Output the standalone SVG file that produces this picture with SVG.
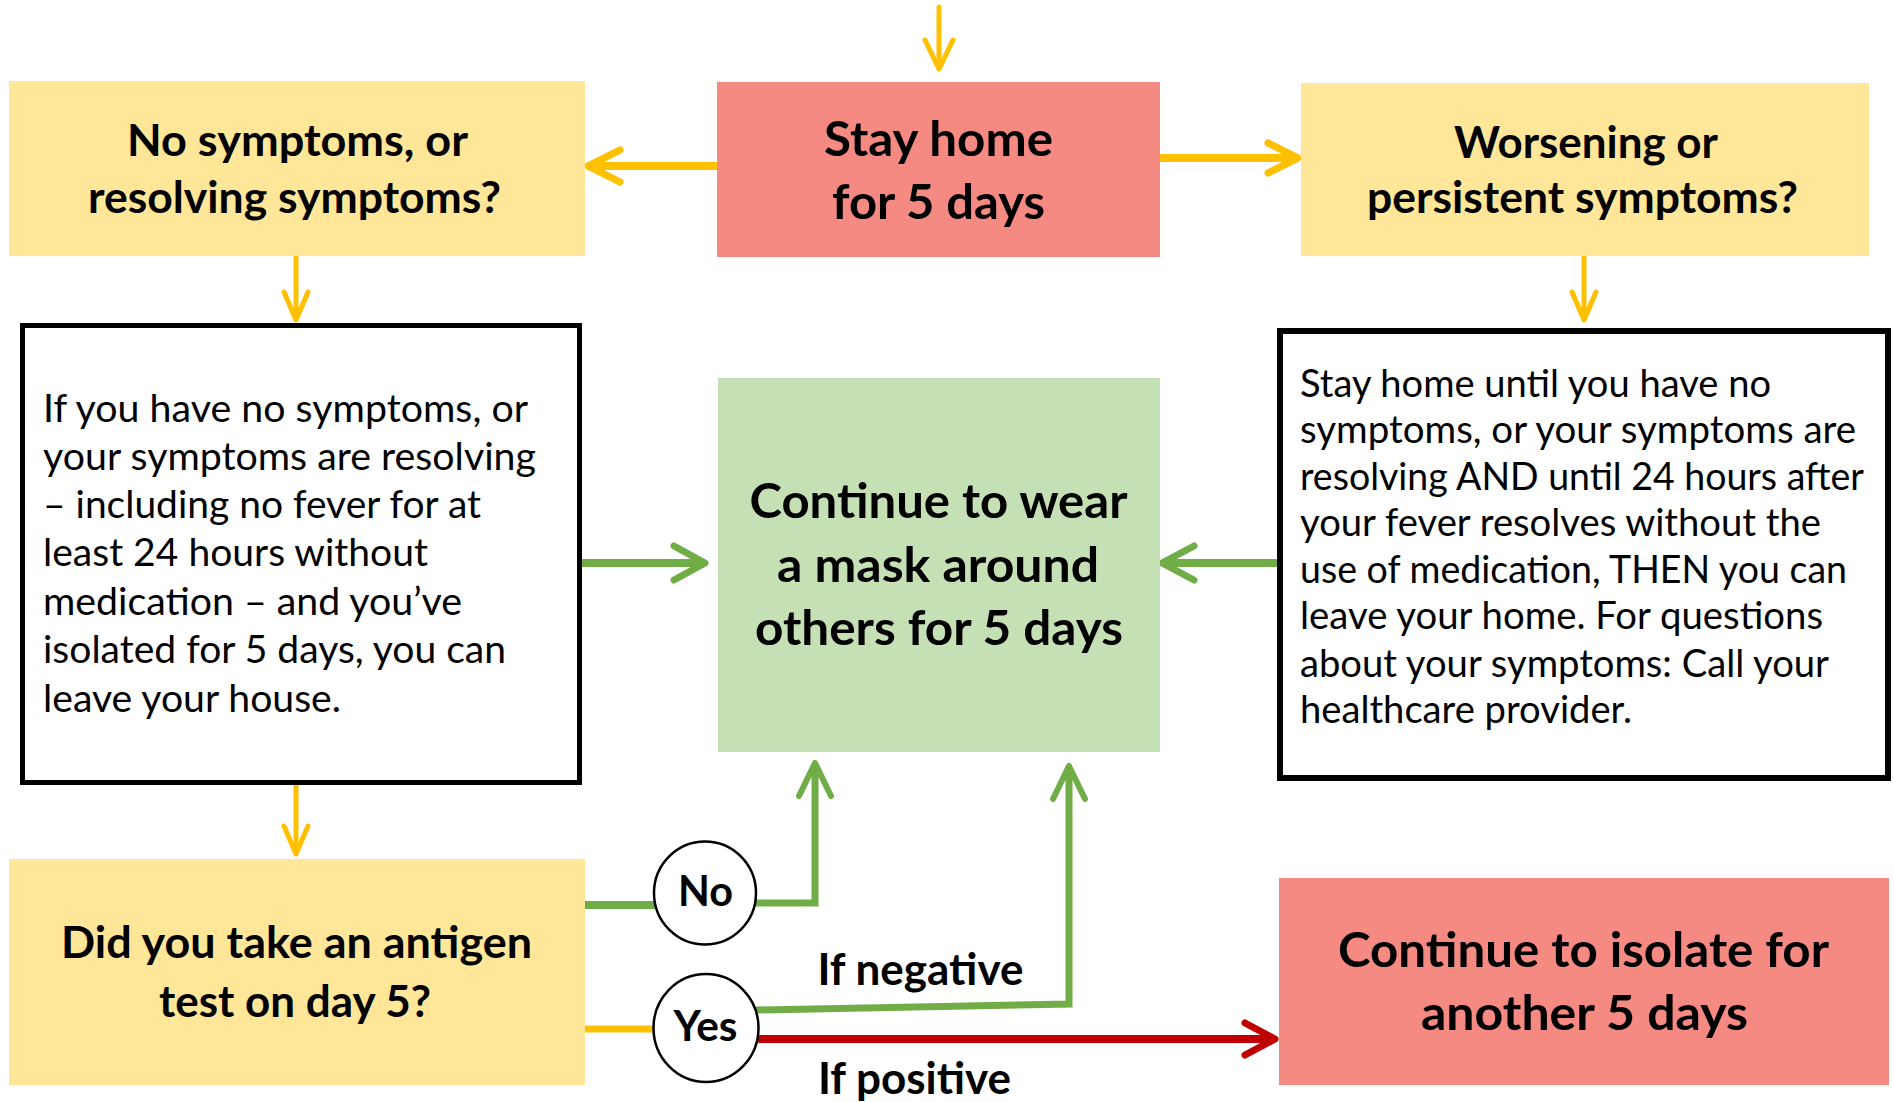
<svg xmlns="http://www.w3.org/2000/svg" width="1894" height="1102" viewBox="0 0 1894 1102">
<style>
.yel{fill:#FFE699}
.red{fill:#F48A82}
.grn{fill:#C5E0B4}
.box{fill:#FFFFFF;stroke:#000000}
.h{font-family:Lato,"Liberation Sans",sans-serif;font-weight:bold;fill:#000;text-anchor:middle}
.b{font-family:Lato,"Liberation Sans",sans-serif;fill:#000;font-size:38.5px}
.ay{fill:none;stroke:#FFC000;stroke-linecap:round;stroke-linejoin:round}
.ag{fill:none;stroke:#70AD47;stroke-linejoin:miter}
.agh{fill:none;stroke:#70AD47;stroke-linecap:round;stroke-linejoin:round}
.ar{fill:none;stroke:#C00000;stroke-linecap:round;stroke-linejoin:round}
.circ{fill:#FFFFFF;stroke:#000;stroke-width:2.5}
</style>
<g id="connectors">
  <line class="ay" x1="939" y1="7" x2="939" y2="68" stroke-width="5"/>
  <polyline class="ay" points="925,40 939,69 953,40" stroke-width="5"/>
  <line class="ay" x1="717" y1="166" x2="590" y2="166" stroke-width="8"/>
  <polyline class="ay" points="620,150 588,166 620,182" stroke-width="7"/>
  <line class="ay" x1="1160" y1="158" x2="1296" y2="158" stroke-width="8"/>
  <polyline class="ay" points="1268,143 1298,158 1268,173" stroke-width="7"/>
  <line class="ay" x1="296" y1="256" x2="296" y2="318" stroke-width="5"/>
  <polyline class="ay" points="284,292 296,320 308,292" stroke-width="5"/>
  <line class="ay" x1="1584" y1="256" x2="1584" y2="318" stroke-width="5"/>
  <polyline class="ay" points="1572,292 1584,320 1596,292" stroke-width="5"/>
  <line class="ay" x1="296" y1="785" x2="296" y2="852" stroke-width="5"/>
  <polyline class="ay" points="284,826 296,854 308,826" stroke-width="5"/>
  <line class="agh" x1="580" y1="563" x2="702" y2="563" stroke-width="8"/>
  <polyline class="agh" points="674,546 705,563 674,580" stroke-width="7"/>
  <line class="agh" x1="1276" y1="563" x2="1164" y2="563" stroke-width="8"/>
  <polyline class="agh" points="1194,546 1162,563 1194,580" stroke-width="7"/>
  <line x1="585" y1="905" x2="655" y2="905" stroke="#70AD47" stroke-width="8"/>
  <polyline class="ag" points="755,903 815,903 815,765" stroke-width="7"/>
  <polyline class="agh" points="799,796 815,763 831,796" stroke-width="6"/>
  <polyline class="ag" points="756,1010 1069,1004 1069,768" stroke-width="7"/>
  <polyline class="agh" points="1053,799 1069,766 1085,799" stroke-width="6"/>
  <line x1="585" y1="1029" x2="655" y2="1029" stroke="#FFC000" stroke-width="7"/>
  <line class="ar" x1="760" y1="1039" x2="1272" y2="1039" stroke-width="8"/>
  <polyline class="ar" points="1245,1023 1275,1039 1245,1055" stroke-width="7"/>
</g>
<g id="node-no-symptoms">
  <rect class="yel" x="9" y="81" width="576" height="175"/>
  <text class="h" font-size="44" x="297.5" y="156" textLength="341" lengthAdjust="spacingAndGlyphs">No symptoms, or</text>
  <text class="h" font-size="44" x="294.5" y="213" textLength="413" lengthAdjust="spacingAndGlyphs">resolving symptoms?</text>
</g>
<g id="node-stay-home">
  <rect class="red" x="717" y="82" width="443" height="175"/>
  <text class="h" font-size="48" x="938.5" y="156" textLength="229" lengthAdjust="spacingAndGlyphs">Stay home</text>
  <text class="h" font-size="48" x="938.5" y="219" textLength="213" lengthAdjust="spacingAndGlyphs">for 5 days</text>
</g>
<g id="node-worsening">
  <rect class="yel" x="1301" y="83" width="568" height="173"/>
  <text class="h" font-size="44" x="1586" y="158" textLength="264" lengthAdjust="spacingAndGlyphs">Worsening or</text>
  <text class="h" font-size="44" x="1582.5" y="213" textLength="431" lengthAdjust="spacingAndGlyphs">persistent symptoms?</text>
</g>
<g id="node-left-info">
  <rect class="box" x="22.5" y="325.5" width="557" height="457" stroke-width="5"/>
  <text class="b" x="43" y="422" textLength="485" lengthAdjust="spacingAndGlyphs">If you have no symptoms, or</text>
  <text class="b" x="43" y="470" textLength="493" lengthAdjust="spacingAndGlyphs">your symptoms are resolving</text>
  <text class="b" x="43" y="518" textLength="438" lengthAdjust="spacingAndGlyphs">– including no fever for at</text>
  <text class="b" x="43" y="566" textLength="385" lengthAdjust="spacingAndGlyphs">least 24 hours without</text>
  <text class="b" x="43" y="615" textLength="419" lengthAdjust="spacingAndGlyphs">medication – and you’ve</text>
  <text class="b" x="43" y="663" textLength="463" lengthAdjust="spacingAndGlyphs">isolated for 5 days, you can</text>
  <text class="b" x="43" y="712" textLength="298" lengthAdjust="spacingAndGlyphs">leave your house.</text>
</g>
<g id="node-mask">
  <rect class="grn" x="718" y="378" width="442" height="374"/>
  <text class="h" font-size="48" x="938.5" y="518" textLength="378" lengthAdjust="spacingAndGlyphs">Continue to wear</text>
  <text class="h" font-size="48" x="938" y="582" textLength="322" lengthAdjust="spacingAndGlyphs">a mask around</text>
  <text class="h" font-size="48" x="939" y="645" textLength="368" lengthAdjust="spacingAndGlyphs">others for 5 days</text>
</g>
<g id="node-right-info">
  <rect class="box" x="1280" y="331" width="608" height="447" stroke-width="6"/>
  <text class="b" x="1300" y="397" font-size="37.5" textLength="471" lengthAdjust="spacingAndGlyphs">Stay home until you have no</text>
  <text class="b" x="1300" y="443" font-size="37.5" textLength="556" lengthAdjust="spacingAndGlyphs">symptoms, or your symptoms are</text>
  <text class="b" x="1300" y="490" font-size="37.5" textLength="564" lengthAdjust="spacingAndGlyphs">resolving AND until 24 hours after</text>
  <text class="b" x="1300" y="536" font-size="37.5" textLength="521" lengthAdjust="spacingAndGlyphs">your fever resolves without the</text>
  <text class="b" x="1300" y="583" font-size="37.5" textLength="547" lengthAdjust="spacingAndGlyphs">use of medication, THEN you can</text>
  <text class="b" x="1300" y="629" font-size="37.5" textLength="523" lengthAdjust="spacingAndGlyphs">leave your home. For questions</text>
  <text class="b" x="1300" y="677" font-size="37.5" textLength="529" lengthAdjust="spacingAndGlyphs">about your symptoms: Call your</text>
  <text class="b" x="1300" y="723" font-size="37.5" textLength="332" lengthAdjust="spacingAndGlyphs">healthcare provider.</text>
</g>
<g id="node-antigen">
  <rect class="yel" x="9" y="859" width="576" height="226"/>
  <text class="h" font-size="44" x="296.5" y="958" textLength="471" lengthAdjust="spacingAndGlyphs">Did you take an antigen</text>
  <text class="h" font-size="44" x="295" y="1017" textLength="272" lengthAdjust="spacingAndGlyphs">test on day 5?</text>
</g>
<g id="node-isolate">
  <rect class="red" x="1279" y="878" width="610" height="207"/>
  <text class="h" font-size="48" x="1583.5" y="967" textLength="491" lengthAdjust="spacingAndGlyphs">Continue to isolate for</text>
  <text class="h" font-size="48" x="1584.5" y="1030" textLength="327" lengthAdjust="spacingAndGlyphs">another 5 days</text>
</g>
<g id="node-no">
  <ellipse class="circ" cx="705" cy="893" rx="51" ry="51.5"/>
  <text class="h" font-size="42" x="705.5" y="906" textLength="55" lengthAdjust="spacingAndGlyphs">No</text>
</g>
<g id="node-yes">
  <ellipse class="circ" cx="706" cy="1028" rx="52.5" ry="54"/>
  <text class="h" font-size="42" x="705.5" y="1041" textLength="64" lengthAdjust="spacingAndGlyphs">Yes</text>
</g>
<g id="labels">
  <text class="h" font-size="43" x="920.5" y="985" textLength="206" lengthAdjust="spacingAndGlyphs">If negative</text>
  <text class="h" font-size="43" x="914.5" y="1094" textLength="193" lengthAdjust="spacingAndGlyphs">If positive</text>
</g>
</svg>
